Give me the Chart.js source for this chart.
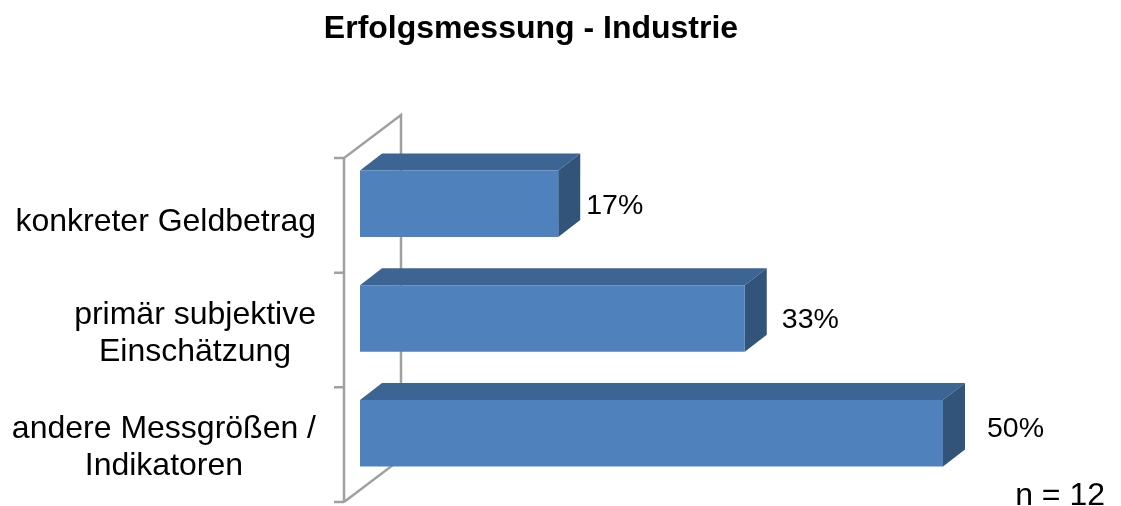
<!DOCTYPE html>
<html>
<head>
<meta charset="utf-8">
<script src="https://cdn.jsdelivr.net/npm/chart.js@4"></script>
<style>
  body { margin: 0; background: #fff; }
  canvas { display: block; }
</style>
</head>
<body>
<canvas id="chart" width="1121" height="506"></canvas>
<script>
const categories = [
  ['konkreter Geldbetrag'],
  ['primär subjektive', 'Einschätzung'],
  ['andere Messgrößen /', 'Indikatoren']
];
const values = [17, 33, 50];
const valueLabels = ['17%', '33%', '50%'];
const chartTitle = 'Erfolgsmessung - Industrie';
const sampleNote = 'n = 12';

const FONT = '"Liberation Sans", Arial, sans-serif';
const TEXT_SIZE = 32;
const VALUE_SIZE = 28.5;

// the labels were placed by hand in the original, so each has its own shift
const labelShiftX = [28, 37, 44];
const labelShiftY = [2, 1.5, -4];
const categoryShiftY = [18.5, 15, 15];

function polygon(ctx, pts, color) {
  ctx.fillStyle = color;
  ctx.beginPath();
  ctx.moveTo(pts[0][0], pts[0][1]);
  pts.slice(1).forEach(p => ctx.lineTo(p[0], p[1]));
  ctx.closePath();
  ctx.fill();
}

const fake3d = {
  id: 'fake3d',
  afterLayout(chart) {
    // title sits over the middle of the plot, not the page
    chart.titleBlock.left = 0;
    chart.titleBlock.right = 1062;
  },
  beforeDatasetsDraw(chart) {
    const ctx = chart.ctx;
    const area = chart.chartArea;
    const wallX = chart.scales.x.getPixelForValue(0) - 16;
    const wallTop = area.top + 11.5;
    const wallBottom = area.bottom + 11.5;
    const n = categories.length;

    // back wall and floor
    ctx.save();
    ctx.strokeStyle = '#a0a0a0';
    ctx.lineWidth = 2.5;
    ctx.beginPath();
    ctx.moveTo(wallX, wallBottom);
    ctx.lineTo(wallX, wallTop);
    ctx.lineTo(wallX + 57, wallTop - 43);
    ctx.lineTo(wallX + 57, wallBottom - 43);
    ctx.lineTo(wallX, wallBottom);
    for (let i = 0; i <= n; i++) {
      const y = wallTop + (wallBottom - wallTop) * i / n;
      ctx.moveTo(wallX - 10, y);
      ctx.lineTo(wallX, y);
    }
    ctx.stroke();
    ctx.restore();

    // top and side of each bar
    chart.getDatasetMeta(0).data.forEach(bar => {
      const top = bar.y - bar.height / 2;
      const bottom = bar.y + bar.height / 2;
      const left = bar.base;
      const right = bar.x;
      const dx = 22, dy = 17;
      polygon(ctx, [[left, top], [left + dx, top - dy], [right + dx, top - dy], [right, top]], '#3d6593');
      polygon(ctx, [[right, top], [right + dx, top - dy], [right + dx, bottom - dy], [right, bottom]], '#325479');
    });
  },
  afterDatasetsDraw(chart) {
    const ctx = chart.ctx;
    const yScale = chart.scales.y;
    ctx.save();
    ctx.fillStyle = '#000';
    ctx.font = TEXT_SIZE + 'px ' + FONT;
    ctx.textBaseline = 'middle';
    ctx.textAlign = 'center';

    // category labels: lines centred on each other, block right aligned
    categories.forEach((lines, i) => {
      const widest = Math.max(...lines.map(l => ctx.measureText(l).width));
      const cx = 316 - widest / 2;
      const cy = yScale.getPixelForTick(i) + categoryShiftY[i];
      lines.forEach((line, j) => {
        ctx.fillText(line, cx, cy + (j - (lines.length - 1) / 2) * 37);
      });
    });

    // sample size note
    ctx.textAlign = 'right';
    ctx.fillText(sampleNote, 1105, 496);

    // value labels
    ctx.font = VALUE_SIZE + 'px ' + FONT;
    ctx.textAlign = 'left';
    chart.getDatasetMeta(0).data.forEach((bar, i) => {
      ctx.fillText(valueLabels[i], bar.x + labelShiftX[i], bar.y + labelShiftY[i]);
    });
    ctx.restore();
  }
};

new Chart(document.getElementById('chart'), {
  type: 'bar',
  data: {
    labels: categories,
    datasets: [{
      data: values,
      backgroundColor: '#4f81bd',
      borderWidth: 0,
      categoryPercentage: 1,
      barPercentage: 0.58
    }]
  },
  options: {
    indexAxis: 'y',
    responsive: false,
    animation: false,
    layout: { padding: { top: 0, left: 0, right: 61.4, bottom: 15.5 } },
    plugins: {
      legend: { display: false },
      tooltip: { enabled: false },
      title: {
        display: true,
        text: chartTitle,
        color: '#000',
        font: { family: FONT, size: 32, weight: 'bold' },
        padding: { top: 10, bottom: 98.1 }
      }
    },
    scales: {
      x: { display: false, min: 0, max: 60 },
      y: {
        ticks: { display: false },
        grid: { display: false },
        border: { display: false },
        afterFit(scale) { scale.width = 360; }
      }
    }
  },
  plugins: [fake3d]
});
</script>
</body>
</html>
